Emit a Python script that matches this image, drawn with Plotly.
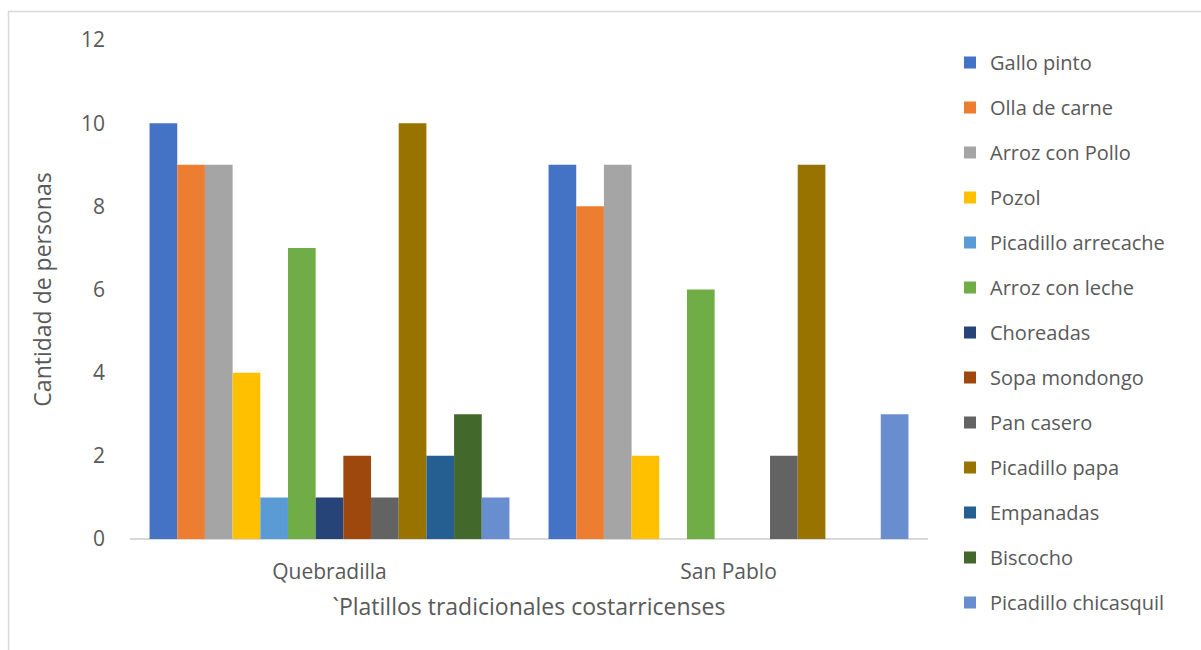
import plotly.graph_objects as go

# Survey results: traditional Costa Rican dishes by locality
localidades = ["Quebradilla", "San Pablo"]
platillos = [
    "Gallo pinto", "Olla de carne", "Arroz con Pollo", "Pozol",
    "Picadillo arrecache", "Arroz con leche", "Choreadas", "Sopa mondongo",
    "Pan casero", "Picadillo papa", "Empanadas", "Biscocho",
    "Picadillo chicasquil",
]
quebradilla = [10, 9, 9, 4, 1, 7, 1, 2, 1, 10, 2, 3, 1]
san_pablo = [9, 8, 9, 2, 0, 6, 0, 0, 2, 9, 0, 0, 3]
colores = [
    "#4472C4", "#ED7D31", "#A5A5A5", "#FFC000", "#5B9BD5", "#70AD47",
    "#264478", "#9E480E", "#636363", "#997300", "#255E91", "#43682B",
    "#698ED0",
]
y_ticks = [0, 2, 4, 6, 8, 10, 12]

FONT = "Open Sans"
TXT = "#595959"

fig = go.Figure()
for i, nombre in enumerate(platillos):
    fig.add_trace(go.Bar(
        name=nombre,
        x=localidades,
        y=[quebradilla[i], san_pablo[i]],
        marker=dict(color=colores[i], line=dict(width=0)),
        legendgroup=nombre,
    ))

W, H = 1201, 650
ml, mr, mt, mb = 130, 273, 40, 111
pw, ph = W - ml - mr, H - mt - mb

fig.update_layout(
    width=W, height=H,
    margin=dict(l=ml, r=mr, t=mt, b=mb),
    paper_bgcolor="white", plot_bgcolor="white",
    barmode="group", bargap=0.098, bargroupgap=0,
    font=dict(family=FONT, size=21, color=TXT),
    showlegend=True,
    legend=dict(
        xref="container", x=950 / W, xanchor="left",
        yref="container", y=1 - 43 / H, yanchor="top",
        maxheight=1,
        font=dict(family=FONT, size=20, color=TXT),
        tracegroupgap=16, itemwidth=30,
        bgcolor="rgba(0,0,0,0)",
    ),
    xaxis=dict(
        showgrid=False, showline=False, zeroline=False,
        tickfont=dict(family=FONT, size=21, color=TXT),
        ticklabelstandoff=18,
        title=dict(text="`Platillos tradicionales costarricenses",
                   font=dict(family=FONT, size=23, color=TXT), standoff=14),
    ),
    yaxis=dict(
        range=[0, 12], tickvals=y_ticks, showgrid=False, showline=False,
        zeroline=True, zerolinecolor="#D9D9D9", zerolinewidth=2,
        tickfont=dict(family=FONT, size=21, color=TXT),
        ticklabelstandoff=24,
        title=dict(text="Cantidad de personas",
                   font=dict(family=FONT, size=23, color=TXT), standoff=22),
    ),
    shapes=[dict(
        type="rect", xref="paper", yref="paper",
        x0=(8.5 - ml) / pw, x1=(W + 5 - ml) / pw,
        y0=-(H + 5 - mt - ph) / ph, y1=1 + (mt - 11.5) / ph,
        line=dict(color="#D9D9D9", width=1.5), fillcolor="rgba(0,0,0,0)",
        layer="below",
    )],
)

fig.write_html("out.html")
